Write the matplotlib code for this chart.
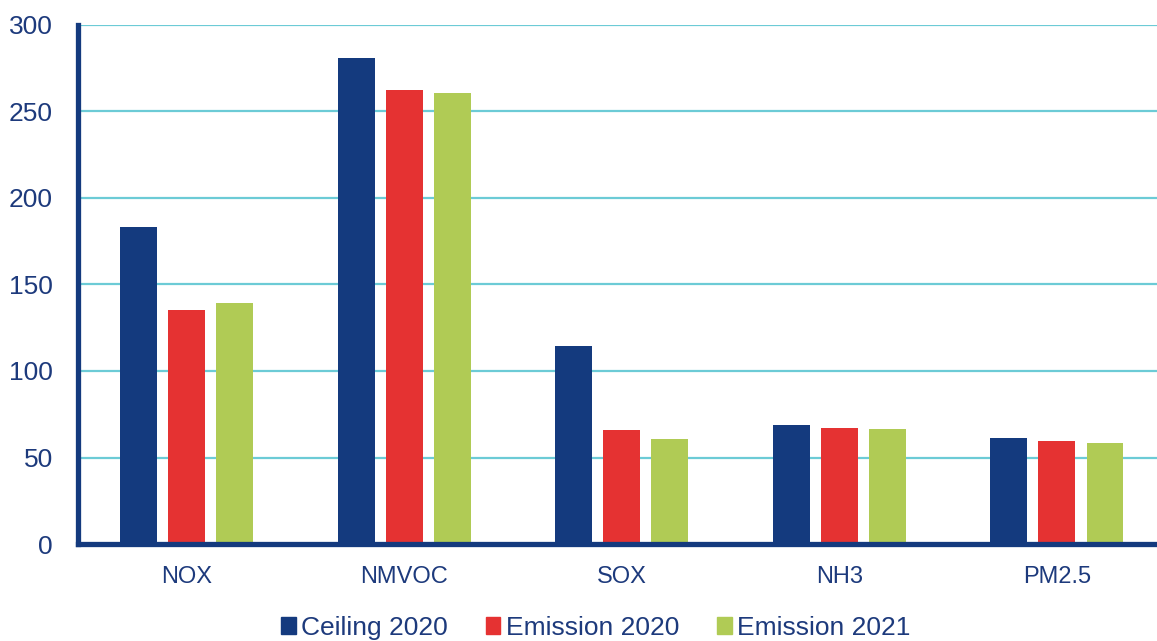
import numpy as np
import matplotlib.pyplot as plt
from matplotlib.patches import Patch

categories = ['NOX', 'NMVOC', 'SOX', 'NH3', 'PM2.5']
ceiling_2020 = [183, 281, 114.5, 69, 61]
emission_2020 = [135, 262.5, 66, 67, 59.5]
emission_2021 = [139.5, 260.5, 60.5, 66.5, 58.5]

series = ['Ceiling 2020', 'Emission 2020', 'Emission 2021']
colors = ['#143a7e', '#e53232', '#b0cb55']
text_col = '#1d3a7c'

plt.rcParams['font.family'] = ['Liberation Sans', 'DejaVu Sans']

fig = plt.figure(figsize=(11.57, 6.41), dpi=100)
ax = fig.add_axes([78/1157, 97/641, 1 - 78/1157, 519/641])

x = np.arange(len(categories))
w = 0.17
step = 0.221
for i, vals in enumerate([ceiling_2020, emission_2020, emission_2021]):
    ax.bar(x + (i - 1) * step, vals, width=w, color=colors[i], zorder=3)

ax.set_ylim(0, 300)
ax.set_xlim(-0.5, 4.46)
ax.set_yticks(range(0, 301, 50))
ax.set_xticks(x)
ax.set_xticklabels(categories)
ax.yaxis.grid(True, color='#6ccbd6', linewidth=1.6, zorder=0)
ax.set_axisbelow(True)

for s in ['top', 'right']:
    ax.spines[s].set_visible(False)
for s in ['left', 'bottom']:
    ax.spines[s].set_color('#143a7e')
    ax.spines[s].set_linewidth(3.8)
    ax.spines[s].set_zorder(4)

ax.tick_params(axis='y', length=0, pad=18, labelsize=19, labelcolor=text_col)
ax.tick_params(axis='x', length=0, pad=16, labelsize=17, labelcolor=text_col)

handles = [Patch(color=c) for c in colors]
fig.legend(handles, series, loc='center', bbox_to_anchor=(0.515, 13/641), ncol=3,
           frameon=False, fontsize=19, labelcolor=text_col, handlelength=0.55,
           handleheight=0.6, handletextpad=0.2, columnspacing=1.45)

fig.savefig('out.png', dpi=100)
